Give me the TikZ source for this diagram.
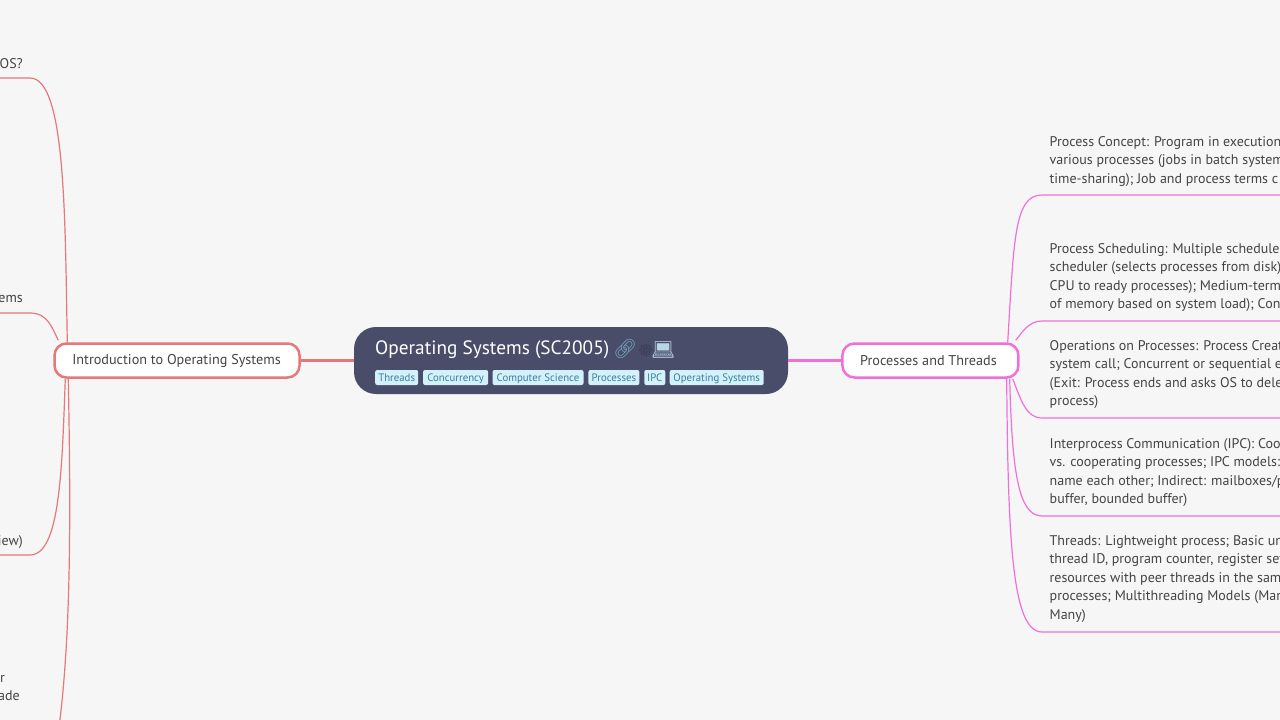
\documentclass[tikz,border=0pt]{standalone}
\usepackage{fontspec}
\setmainfont{PT Sans}
\newfontfamily\emojifont{Noto Emoji}
\usepackage{tikz}
\usetikzlibrary{positioning}
\definecolor{pagebg}{HTML}{F6F6F6}
\definecolor{mainbg}{HTML}{4A4D6A}
\definecolor{redline}{HTML}{E57878}
\definecolor{pinkline}{HTML}{F070D8}
\definecolor{inktext}{HTML}{444444}
\definecolor{tagbg}{HTML}{D2F1FB}
\definecolor{tagtext}{HTML}{3C7F97}
\definecolor{linkblue}{HTML}{6FA6BE}
\definecolor{laptopblue}{HTML}{B9D6E6}

\begin{document}
\begin{tikzpicture}[x=1pt, y=-1pt, node distance=53pt,
	main node/.style={rounded corners=22pt,fill=mainbg,minimum width=434pt,minimum height=67pt,inner sep=0pt},
	branch node/.style={rounded corners=12pt,draw,line width=2.5pt,fill=white,text=inktext,minimum height=34pt,inner sep=0pt,font=\fontsize{14.2}{16}\selectfont},
	tag node/.style={rounded corners=2pt,fill=tagbg,text=tagtext,inner xsep=0pt,inner ysep=0pt,text height=9pt,text depth=1.5pt,minimum height=15pt,font=\fontsize{10.8}{12}\selectfont},
	topic node/.style={anchor=north west,inner sep=0pt,align=left,text=inktext,font=\fontsize{14}{18.6}\selectfont},
	leaf line/.style={line width=1.2pt}]
	
	\path[use as bounding box,fill=pagebg] (0,0) rectangle (1280,720);
	
	\node[main node] (os) at (571,360.5) {};
	\node[branch node,draw=redline,minimum width=245pt] (intro) [left=of os] {Introduction to Operating Systems\hspace*{1pt}};
	\node[branch node,draw=pinkline,minimum width=176pt] (procs) [right=of os] {Processes and Threads\hspace*{4pt}};
	
	\node[anchor=west,inner sep=0pt,text=white,font=\fontsize{19.3}{22}\selectfont] (title) at (375,350) {Operating Systems (SC2005)};
	\node[anchor=west,inner sep=0pt,font=\emojifont\fontsize{19}{22}\selectfont,text=linkblue] (link) at (613,349) {🔗};
	\node[anchor=west,inner sep=0pt,font=\emojifont\fontsize{12}{16}\selectfont,text=mainbg!65!black] (gear) at (638,350) {⚙};
	\node[anchor=west,inner sep=0pt,font=\emojifont\fontsize{19}{22}\selectfont,text=laptopblue] (laptop) at (651,350) {💻};
	
	\node[tag node,minimum width=43pt,anchor=west] (tag1) at (375,377.5) {Threads};
	\node[tag node,minimum width=65pt] (tag2) [right=4.5pt of tag1] {Concurrency};
	\node[tag node,minimum width=91pt] (tag3) [right=4pt of tag2] {Computer Science};
	\node[tag node,minimum width=51pt] (tag4) [right=4.5pt of tag3] {Processes};
	\node[tag node,minimum width=21pt] (tag5) [right=4.5pt of tag4] {IPC};
	\node[tag node,minimum width=94pt] (tag6) [right=4pt of tag5] {Operating Systems};
	
	\node[topic node] (topic1) at (1049.5,136) {Process Concept: Program in execution\\various processes (jobs in batch system\\time-sharing); Job and process terms c};
	\node[topic node] (topic2) at (1049.5,243) {Process Scheduling: Multiple scheduler\\scheduler (selects processes from disk)\\CPU to ready processes); Medium-term\\of memory based on system load); Con};
	\node[topic node] (topic3) at (1049.5,340) {Operations on Processes: Process Creat\\system call; Concurrent or sequential e\\(Exit: Process ends and asks OS to dele\\process)};
	\node[topic node] (topic4) at (1049.5,438) {Interprocess Communication (IPC): Coo\\vs. cooperating processes; IPC models:\\name each other; Indirect: mailboxes/p\\buffer, bounded buffer)};
	\node[topic node] (topic5) at (1049.5,535) {Threads: Lightweight process; Basic un\\thread ID, program counter, register set\\resources with peer threads in the sam\\processes; Multithreading Models (Man\\Many)};
	
	\node[topic node,anchor=north east] (leaf1) at (23,58) {OS?};
	\node[topic node,anchor=north east] (leaf2) at (23,295) {ems};
	\node[topic node,anchor=north east] (leaf3) at (23,535) {iew)};
	\node[topic node,anchor=north east] (leaf4) at (5,675) {r};
	\node[topic node,anchor=north east] (leaf5) at (20,690) {ade};
	
	\coordinate (endp1) at (1280,195);
	\coordinate (endp2) at (1280,321);
	\coordinate (endp3) at (1280,418);
	\coordinate (endp4) at (1280,516);
	\coordinate (endp5) at (1280,632);
	\coordinate (endr1) at (0,78);
	\coordinate (endr2) at (0,313);
	\coordinate (endr3) at (0,555);
	\coordinate (endr4) at (58,735);
	
	\draw[redline,line width=2.5pt] (intro) -- (os);
	\draw[pinkline,line width=2.5pt] (os) -- (procs);
	
	\draw[leaf line,pinkline] ([xshift=-12pt]procs.north east) .. controls (1014,240) and (1014,195) .. (1042,195) -- (endp1);
	\draw[leaf line,pinkline] ([xshift=-4pt,yshift=2pt]procs.north east) .. controls (1022,333) and (1028,321) .. (1042,321) -- (endp2);
	\draw[leaf line,pinkline] ([xshift=-7pt]procs.south east) .. controls (1021,400) and (1026,418) .. (1042,418) -- (endp3);
	\draw[leaf line,pinkline] ([xshift=-10pt]procs.south east) .. controls (1012,470) and (1018,516) .. (1042,516) -- (endp4);
	\draw[leaf line,pinkline] ([xshift=-13pt]procs.south east) .. controls (1008,540) and (1012,632) .. (1042,632) -- (endp5);
	
	\draw[leaf line,redline] ([xshift=14pt]intro.north west) .. controls (65,220) and (66,78) .. (30,78) -- (endr1);
	\draw[leaf line,redline] ([xshift=5pt,yshift=2pt]intro.north west) .. controls (52,328) and (48,313) .. (30,313) -- (endr2);
	\draw[leaf line,redline] ([xshift=12pt]intro.south west) .. controls (62,470) and (60,555) .. (30,555) -- (endr3);
	\draw[leaf line,redline] ([xshift=15pt]intro.south west) .. controls (71,520) and (71,640) .. (endr4);
	
\end{tikzpicture}
\end{document}
